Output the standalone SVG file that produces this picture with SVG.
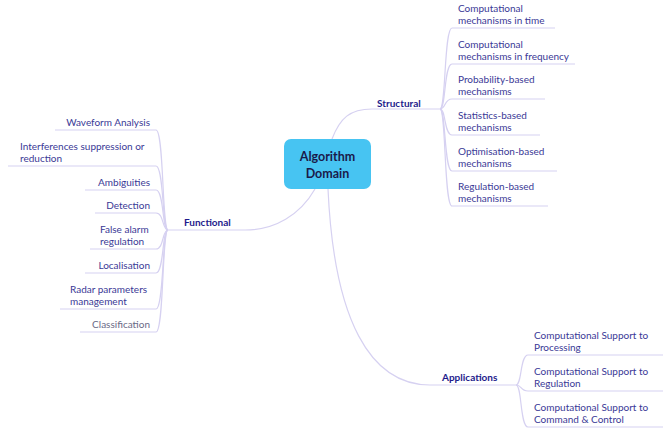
<svg xmlns="http://www.w3.org/2000/svg" width="663" height="434" viewBox="0 0 663 434">
<style>
.ln{fill:none;stroke:#d6d1f1;stroke-width:1.2}
.t{font-family:Lato,"Noto Sans",sans-serif;font-size:10px;fill:#3a3996}
.b{font-family:Lato,"Noto Sans",sans-serif;font-size:10px;font-weight:bold;fill:#1e1b8c}
.c{font-family:Lato,"Noto Sans",sans-serif;font-size:12.5px;font-weight:bold;fill:#1a1a4a}
.e{text-anchor:end}
</style>
<rect width="663" height="434" fill="#ffffff"/>
<g id="connectors">
<path class="ln" d="M332,139 C340,118 350,109 372,109 L440,109"/>
<path class="ln" d="M315,189 C300,215 275,230 245,230 L168,230"/>
<path class="ln" d="M328,189 C334,320 370,385 430,385 L516,385"/>
<path class="ln" d="M440,109 C446,109 444,28 452,28 L555,28"/>
<path class="ln" d="M440,109 C446,109 444,64 452,64 L575,64"/>
<path class="ln" d="M440,109 C446,109 444,99 452,99 L545,99"/>
<path class="ln" d="M440,109 C446,109 444,135 452,135 L540,135"/>
<path class="ln" d="M440,109 C446,109 444,171 452,171 L557,171"/>
<path class="ln" d="M440,109 C446,109 444,206 452,206 L548,206"/>
<path class="ln" d="M168,230 C162,230 164,130 156,130 L55,130"/>
<path class="ln" d="M168,230 C162,230 164,166 156,166 L8,166"/>
<path class="ln" d="M168,230 C162,230 164,190 156,190 L85,190"/>
<path class="ln" d="M168,230 C162,230 164,213 156,213 L95,213"/>
<path class="ln" d="M168,230 C162,230 164,249 156,249 L90,249"/>
<path class="ln" d="M168,230 C162,230 164,273 156,273 L85,273"/>
<path class="ln" d="M168,230 C162,230 164,309 156,309 L60,309"/>
<path class="ln" d="M168,230 C162,230 164,332 156,332 L80,332"/>
<path class="ln" d="M516,385 C522,385 520,355 528,355 L663,355"/>
<path class="ln" d="M516,385 C522,385 520,391 528,391 L663,391"/>
<path class="ln" d="M516,385 C522,385 520,427 528,427 L663,427"/>
</g>
<g id="center">
<rect x="284" y="139" width="87" height="50" rx="7" fill="#47c4f2"/>
<text class="c" x="327.5" y="161" text-anchor="middle">Algorithm</text>
<text class="c" x="327.5" y="178" text-anchor="middle">Domain</text>
</g>
<g id="structural"><text class="b" x="377" y="107">Structural</text></g>
<g id="functional"><text class="b" x="184" y="226">Functional</text></g>
<g id="applications"><text class="b" x="442" y="381">Applications</text></g>
<g id="s1"><text class="t" x="458" y="12">Computational</text><text class="t" x="458" y="24">mechanisms in time</text></g>
<g id="s2"><text class="t" x="458" y="48">Computational</text><text class="t" x="458" y="60">mechanisms in frequency</text></g>
<g id="s3"><text class="t" x="458" y="83">Probability-based</text><text class="t" x="458" y="95">mechanisms</text></g>
<g id="s4"><text class="t" x="458" y="119">Statistics-based</text><text class="t" x="458" y="131">mechanisms</text></g>
<g id="s5"><text class="t" x="458" y="155">Optimisation-based</text><text class="t" x="458" y="167">mechanisms</text></g>
<g id="s6"><text class="t" x="458" y="190">Regulation-based</text><text class="t" x="458" y="202">mechanisms</text></g>
<g id="f1"><text class="t e" x="150" y="126">Waveform Analysis</text></g>
<g id="f2"><text class="t" x="20" y="150">Interferences suppression or</text><text class="t" x="20" y="162">reduction</text></g>
<g id="f3"><text class="t e" x="150" y="186">Ambiguities</text></g>
<g id="f4"><text class="t e" x="150" y="209">Detection</text></g>
<g id="f5"><text class="t" x="100" y="233">False alarm</text><text class="t" x="100" y="245">regulation</text></g>
<g id="f6"><text class="t e" x="150" y="269">Localisation</text></g>
<g id="f7"><text class="t" x="70" y="293">Radar parameters</text><text class="t" x="70" y="305">management</text></g>
<g id="f8"><text class="t e" x="150" y="328" style="fill:#6a6a86">Classification</text></g>
<g id="a1"><text class="t" x="534" y="339">Computational Support to</text><text class="t" x="534" y="351">Processing</text></g>
<g id="a2"><text class="t" x="534" y="375">Computational Support to</text><text class="t" x="534" y="387">Regulation</text></g>
<g id="a3"><text class="t" x="534" y="411">Computational Support to</text><text class="t" x="534" y="423">Command &amp; Control</text></g>
</svg>
